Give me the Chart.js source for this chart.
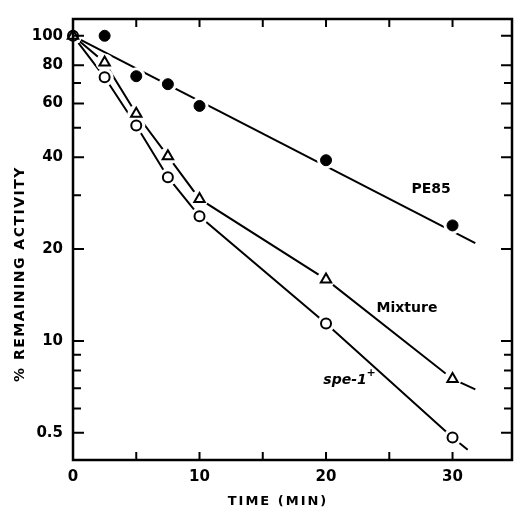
<!DOCTYPE html>
<html>
<head>
<meta charset="utf-8">
<script src="https://cdn.jsdelivr.net/npm/chart.js@4"></script>
<style>
  html, body { margin: 0; padding: 0; background: #fff; }
  #wrap { width: 514px; height: 510px; }
</style>
</head>
<body>
<div id="wrap"><canvas id="inactChart"></canvas></div>
<script>
// values (time in min, % remaining activity)
const pe85Time = [2.5, 5, 7.5, 10, 20, 30];
const pe85Vals = [100, 73.7, 69.4, 58.9, 39.1, 23.9];
const pe85Fit = [{x: 0, y: 100}, {x: 31.8, y: 20.9}];

const mixTime = [0, 2.5, 5, 7.5, 10, 20, 30, 31.8];
const mixVals = [100, 81.8, 55.5, 40.3, 29.2, 15.9, 7.5, 6.94];

const speTime = [0, 2.5, 5, 7.5, 10, 20, 30, 31.2];
const speVals = [100, 73.1, 50.8, 34.4, 25.6, 11.4, 4.82, 4.4];

const yTicks = [100, 80, 70, 60, 50, 40, 30, 20, 10, 9, 8, 7, 6, 5];
const yLabels = {100: '100', 80: '80', 60: '60', 40: '40', 20: '20', 10: '10', 5: '0.5'};
const yMajor = [100, 80, 60, 40, 20, 10, 5];
const xTicks = [0, 5, 10, 15, 20, 25, 30];
const xLabels = [0, 10, 20, 30];

const seriesNames = ['PE85', 'Mixture', 'spe-1'];

const pts = (xs, ys, n) => xs.slice(0, n).map((x, i) => ({x, y: ys[i]}));

// markers: only real measurements (last point of mix/spe is line end)
const pe85Pts = pts(pe85Time, pe85Vals, pe85Time.length);
const mixPts = pts(mixTime, mixVals, mixTime.length - 1);
const spePts = pts(speTime, speVals, speTime.length - 1);

const FONT = '"DejaVu Sans", sans-serif';

const decor = {
  id: 'decor',
  afterDraw(chart) {
    const {ctx, chartArea: a, scales: {x, y}} = chart;
    ctx.save();
    ctx.strokeStyle = '#000';
    ctx.lineWidth = 2.5;
    ctx.strokeRect(a.left, a.top, a.right - a.left, a.bottom - a.top);
    ctx.lineWidth = 2;
    ctx.beginPath();
    yTicks.forEach(v => {
      const py = y.getPixelForValue(v);
      const len = yMajor.includes(v) ? 11 : 8;
      ctx.moveTo(a.left, py); ctx.lineTo(a.left + len, py);
      ctx.moveTo(a.right, py); ctx.lineTo(a.right - len, py);
    });
    xTicks.forEach(v => {
      const px = x.getPixelForValue(v);
      ctx.moveTo(px, a.bottom); ctx.lineTo(px, a.bottom - 8);
      ctx.moveTo(px, a.top); ctx.lineTo(px, a.top + 8);
    });
    ctx.stroke();

    ctx.fillStyle = '#000';
    ctx.textAlign = 'center';
    ctx.textBaseline = 'middle';
    ctx.font = 'bold 14px ' + FONT;
    ctx.fillText('PE85', x.getPixelForValue(28.3), y.getPixelForValue(31.3));
    ctx.fillText('Mixture', x.getPixelForValue(26.4), y.getPixelForValue(12.8));
    ctx.font = 'italic bold 14px ' + FONT;
    const sx = x.getPixelForValue(21.5), sy = y.getPixelForValue(7.43);
    ctx.fillText('spe-1', sx, sy);
    ctx.font = 'bold 11px ' + FONT;
    ctx.fillText('+', sx + 26, sy - 7);

    // axis titles
    ctx.font = 'bold 13px ' + FONT;
    ctx.letterSpacing = '2px';
    ctx.fillText('TIME (MIN)', 278, 502);
    ctx.translate(20, 274);
    ctx.rotate(-Math.PI / 2);
    ctx.font = 'bold 14px ' + FONT;
    ctx.letterSpacing = '1.5px';
    ctx.fillText('% REMAINING ACTIVITY', 0, 0);
    ctx.restore();
  }
};

const black = '#000';

new Chart(document.getElementById('inactChart'), {
  type: 'scatter',
  data: {
    datasets: [
      {label: seriesNames[0], data: pe85Pts, pointStyle: 'circle', pointRadius: 5.5,
        pointBackgroundColor: black, pointBorderColor: black, pointBorderWidth: 1, order: 0, clip: false},
      {label: seriesNames[1], data: mixPts, pointStyle: 'triangle', pointRadius: 6,
        pointBackgroundColor: '#fff', pointBorderColor: black, pointBorderWidth: 2, order: 0, clip: false},
      {label: seriesNames[2], data: spePts, pointStyle: 'circle', pointRadius: 5,
        pointBackgroundColor: '#fff', pointBorderColor: black, pointBorderWidth: 2, order: 0, clip: false},
      // white halos so lines stop short of the markers
      {data: pe85Pts.concat(mixPts, spePts), pointRadius: 9, pointBackgroundColor: '#fff',
        pointBorderWidth: 0, order: 1, clip: false},
      // curves
      {data: pe85Fit, showLine: true, borderColor: black, borderWidth: 2, pointRadius: 0, order: 2},
      {data: pts(mixTime, mixVals, mixTime.length), showLine: true, borderColor: black, borderWidth: 2,
        pointRadius: 0, order: 2},
      {data: pts(speTime, speVals, speTime.length), showLine: true, borderColor: black, borderWidth: 2,
        pointRadius: 0, order: 2}
    ]
  },
  options: {
    responsive: true,
    maintainAspectRatio: false,
    animation: false,
    layout: {autoPadding: false, padding: {top: 14, right: 2, left: 0, bottom: 0}},
    plugins: {legend: {display: false}, tooltip: {enabled: false}},
    scales: {
      x: {
        type: 'linear', min: 0, max: 34.7,
        grid: {display: false, drawTicks: false},
        border: {display: false},
        afterBuildTicks: s => { s.ticks = xLabels.map(v => ({value: v})); },
        afterFit: s => { s.height = 50; },
        ticks: {padding: 8, color: black, font: {family: FONT, size: 15, weight: 'bold'}}
      },
      y: {
        type: 'logarithmic', min: 4.07, max: 113.5,
        grid: {display: false, drawTicks: false},
        border: {display: false},
        afterBuildTicks: s => { s.ticks = yTicks.map(v => ({value: v})); },
        afterFit: s => { s.width = 73; },
        ticks: {
          padding: 10, color: black, autoSkip: false,
          font: {family: FONT, size: 15, weight: 'bold'},
          callback: v => yLabels[v] || ''
        }
      }
    }
  },
  plugins: [decor]
});
</script>
</body>
</html>
